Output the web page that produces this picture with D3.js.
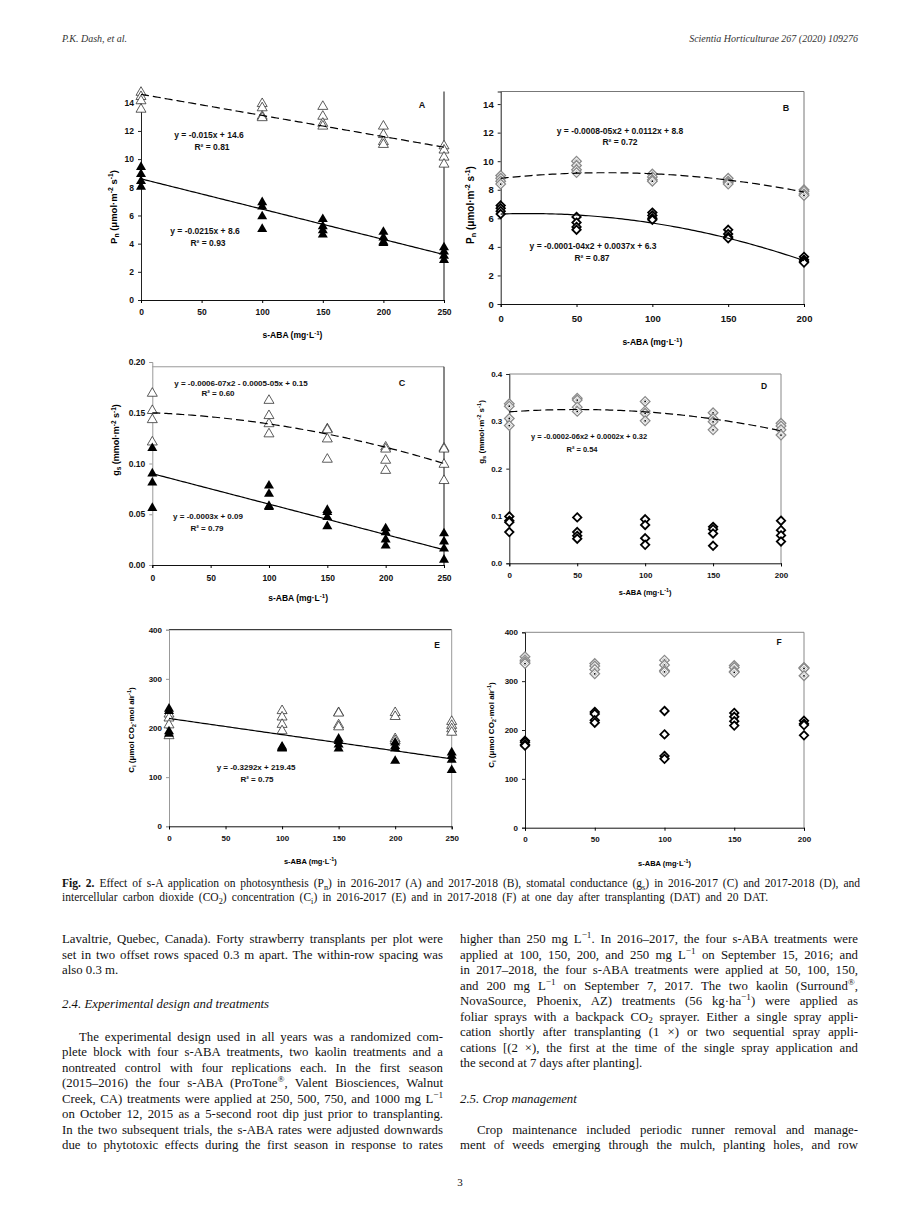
<!DOCTYPE html>
<html><head><meta charset="utf-8">
<script src="https://cdn.jsdelivr.net/npm/d3@7"></script>
<style>body{margin:0;background:#fff}svg{display:block}</style>
</head><body><svg id="page" width="920" height="1226"></svg>
<script>
// ---------------- DATA ----------------
const dosesA = [0, 100, 150, 200, 250];
const dosesB = [0, 50, 100, 150, 200];
const xTicksA = [0, 50, 100, 150, 200, 250];
const xTicksB = [0, 50, 100, 150, 200];
const yTicksPn = [0, 2, 4, 6, 8, 10, 12, 14];
const yTicksGsC = [0, 0.05, 0.10, 0.15, 0.20];
const yTicksGsD = [0, 0.1, 0.2, 0.3, 0.4];
const yTicksCi = [0, 100, 200, 300, 400];

// Panel A: Pn 2016-2017
const pnOpenA = [[14.8,14.5,14.2,13.6],[14.0,13.7,13.1,13.0],[13.8,13.1,12.6,12.4],[12.4,11.8,11.3,11.1],[11.0,10.7,10.2,9.7]];
const pnFilledA = [[9.5,9.0,8.5,8.1],[7.0,6.7,6.0,5.1],[5.8,5.3,5.0,4.7],[4.9,4.5,4.2,4.1],[3.8,3.5,3.2,2.9]];
const fitOpenA = [0, -0.015, 14.6];
const fitFilledA = [0, -0.0215, 8.6];
// Panel B: Pn 2017-2018
const pnOpenB = [[9.0,8.8,8.6,8.4],[10.0,9.7,9.4,9.2],[9.1,8.9,8.7,8.6],[8.8,8.6,8.5,8.4],[8.0,7.9,7.7,7.6]];
const pnFilledB = [[6.9,6.7,6.5,6.3],[6.1,5.7,5.4,5.2],[6.4,6.2,6.0,5.9],[5.2,4.9,4.7,4.6],[3.3,3.1,3.0,2.9]];
const fitOpenB = [-0.00008, 0.0112, 8.8];
const fitFilledB = [-0.0001, 0.0037, 6.3];
// Panel C: gs 2016-2017
const gsOpenC = [[0.170,0.153,0.144,0.122],[0.163,0.148,0.140,0.130],[0.135,0.134,0.125,0.105],[0.117,0.115,0.104,0.094],[0.116,0.115,0.100,0.084]];
const gsFilledC = [[0.116,0.091,0.082,0.057],[0.079,0.071,0.059,0.058],[0.055,0.053,0.048,0.039],[0.037,0.033,0.026,0.020],[0.032,0.024,0.017,0.006]];
const fitOpenC = [-6e-7, -5e-5, 0.15];
const fitFilledC = [0, -0.0003, 0.09];
// Panel D: gs 2017-2018
const gsOpenD = [[0.337,0.332,0.306,0.291],[0.349,0.345,0.330,0.321],[0.342,0.322,0.317,0.301],[0.318,0.306,0.299,0.282],[0.296,0.290,0.282,0.271]];
const gsFilledD = [[0.099,0.090,0.087,0.066],[0.097,0.066,0.058,0.052],[0.093,0.081,0.053,0.039],[0.077,0.072,0.063,0.037],[0.090,0.070,0.059,0.046]];
const fitOpenD = [-2e-6, 0.0002, 0.32];
// Panel E: Ci 2016-2017
const ciOpenE = [[230,222,208,186],[237,224,209,196],[233,232,208,204],[233,225,180,176],[215,207,200,193]];
const ciFilledE = [[241,236,195,190],[164,162,161,160],[180,175,168,160],[172,165,160,135],[152,145,137,116]];
const fitFilledE = [0, -0.3292, 219.45];
// Panel F: Ci 2017-2018
const ciOpenF = [[350,343,339,336],[336,331,324,315],[343,333,322,319],[332,328,320,318],[328,327,326,311]];
const ciFilledF = [[178,175,170,168],[237,233,220,215],[239,191,147,141],[235,227,218,209],[219,213,210,189]];

const eqA = ["y = -0.015x + 14.6", "R² = 0.81", "y = -0.0215x + 8.6", "R² = 0.93"];
const eqB = ["y = -0.0008-05x2 + 0.0112x + 8.8", "R² = 0.72", "y = -0.0001-04x2 + 0.0037x + 6.3", "R² = 0.87"];
const eqC = ["y = -0.0006-07x2 - 0.0005-05x + 0.15", "R² = 0.60", "y = -0.0003x + 0.09", "R² = 0.79"];
const eqD = ["y = -0.0002-06x2 + 0.0002x + 0.32", "R² = 0.54"];
const eqE = ["y = -0.3292x + 219.45", "R² = 0.75"];

const headerLeft = "P.K. Dash, et al.";
const headerRight = "Scientia Horticulturae 267 (2020) 109276";
const captionLines = [
  {s:" Effect of s-A application on photosynthesis (P_{n}) in 2016-2017 (A) and 2017-2018 (B), stomatal conductance (g_{s}) in 2016-2017 (C) and 2017-2018 (D), and", w:798, bold:"Fig. 2."},
  {s:"intercellular carbon dioxide (CO_{2}) concentration (C_{i}) in 2016-2017 (E) and in 2017-2018 (F) at one day after transplanting (DAT) and 20 DAT.", w:706}
];
const leftLines = [
  {s:"Lavaltrie, Quebec, Canada). Forty strawberry transplants per plot were", j:true, row:0},
  {s:"set in two offset rows spaced 0.3 m apart. The within-row spacing was", j:true, row:1},
  {s:"also 0.3 m.", j:false, row:2},
  {s:"2.4.  Experimental design and treatments", j:false, row:4.2, it:true},
  {s:"The experimental design used in all years was a randomized com-", j:true, row:6.3, ind:true},
  {s:"plete block with four s-ABA treatments, two kaolin treatments and a", j:true, row:7.3},
  {s:"nontreated control with four replications each. In the first season", j:true, row:8.3},
  {s:"(2015–2016) the four s-ABA (ProTone^{®}, Valent Biosciences, Walnut", j:true, row:9.3},
  {s:"Creek, CA) treatments were applied at 250, 500, 750, and 1000 mg L^{−1}", j:true, row:10.3},
  {s:"on October 12, 2015 as a 5-second root dip just prior to transplanting.", j:true, row:11.3},
  {s:"In the two subsequent trials, the s-ABA rates were adjusted downwards", j:true, row:12.3},
  {s:"due to phytotoxic effects during the first season in response to rates", j:true, row:13.3}
];
const rightLines = [
  {s:"higher than 250 mg L^{−1}. In 2016–2017, the four s-ABA treatments were", j:true, row:0},
  {s:"applied at 100, 150, 200, and 250 mg L^{−1} on September 15, 2016; and", j:true, row:1},
  {s:"in 2017–2018, the four s-ABA treatments were applied at 50, 100, 150,", j:true, row:2},
  {s:"and 200 mg L^{−1} on September 7, 2017. The two kaolin (Surround^{®},", j:true, row:3},
  {s:"NovaSource, Phoenix, AZ) treatments (56 kg·ha^{−1}) were applied as", j:true, row:4},
  {s:"foliar sprays with a backpack CO_{2} sprayer. Either a single spray appli-", j:true, row:5},
  {s:"cation shortly after transplanting (1 ×) or two sequential spray appli-", j:true, row:6},
  {s:"cations [(2 ×), the first at the time of the single spray application and", j:true, row:7},
  {s:"the second at 7 days after planting].", j:false, row:8},
  {s:"2.5.  Crop management", j:false, row:10.3, it:true},
  {s:"Crop maintenance included periodic runner removal and manage-", j:true, row:12.3, ind:true},
  {s:"ment of weeds emerging through the mulch, planting holes, and row", j:true, row:13.3}
];
const pageNumber = "3";

// ---------------- HELPERS ----------------
const svg = d3.select("#page");
const SANS = "'Liberation Sans', Arial, sans-serif";
const SERIF = "'Liberation Serif', 'Times New Roman', serif";

function parse(str){
  const parts=[]; const re=/(\^\{([^}]*)\}|_\{([^}]*)\})/g; let last=0,m;
  while((m=re.exec(str))){
    if(m.index>last) parts.push({t:str.slice(last,m.index)});
    if(m[2]!==undefined) parts.push({t:m[2],sup:true}); else parts.push({t:m[3],sub:true});
    last=re.lastIndex;
  }
  if(last<str.length) parts.push({t:str.slice(last)});
  return parts;
}
function rich(textSel, parts, fs){
  let shift=0;
  parts.forEach(p=>{
    const target = p.sup ? -fs*0.38 : p.sub ? fs*0.22 : 0;
    const ts = textSel.append("tspan").text(p.t);
    if(target-shift!==0) ts.attr("dy", target-shift);
    if(p.sup||p.sub) ts.attr("font-size", fs*0.72);
    if(p.bold) ts.attr("font-weight","bold");
    shift=target;
  });
  return textSel;
}
function quad(c){ return x => c[0]*x*x + c[1]*x + c[2]; }

const xTitleParts = [{t:"s-ABA (mg·L"},{t:"-1",sup:true},{t:")"}];
const pnTitle = [{t:"P"},{t:"n",sub:true},{t:" (μmol·m"},{t:"-2",sup:true},{t:" s"},{t:"-1",sup:true},{t:")"}];
const gsTitle = [{t:"g"},{t:"s",sub:true},{t:" (mmol·m"},{t:"-2",sup:true},{t:" s"},{t:"-1",sup:true},{t:")"}];
const ciTitle = [{t:"C"},{t:"i",sub:true},{t:" (μmol CO"},{t:"2",sub:true},{t:"·mol air"},{t:"-1",sup:true},{t:")"}];

const triPath = "M0,-4.8L5,3.8L-5,3.8Z";
const diaPath = r => `M0,${-r}L${r},0L0,${r}L${-r},0Z`;

function drawPanel(c){
  const g = svg.append("g");
  const x = d3.scaleLinear().domain([0,c.xMax]).range([c.x0,c.x1]);
  const y = d3.scaleLinear().domain([0,c.yMax]).range([c.yB,c.yT]);
  if(c.topVal!==undefined) g.append("line").attr("x1",x(0)).attr("x2",x(c.xMax)).attr("y1",y(c.topVal)).attr("y2",y(c.topVal)).attr("stroke",c.topCol).attr("stroke-width",1);
  g.append("line").attr("x1",x(c.xMax)).attr("x2",x(c.xMax)).attr("y1",c.topVal!==undefined?y(c.topVal):y(c.yMax)).attr("y2",y(0)).attr("stroke",c.rightCol).attr("stroke-width",1);
  const fs=c.fs;
  const ya = g.append("g").attr("transform",`translate(${c.x0},0)`)
    .call(d3.axisLeft(y).tickValues(c.yTicks).tickSize(3).tickPadding(4).tickFormat(c.yFmt));
  const xa = g.append("g").attr("transform",`translate(0,${c.yB})`)
    .call(d3.axisBottom(x).tickValues(c.xTicks).tickSize(3).tickPadding(c.xPad).tickFormat(d3.format("d")));
  [ya,xa].forEach(a=>{a.selectAll("text").attr("font-family",SANS).attr("font-weight","bold").attr("font-size",fs).attr("fill","#111");});
  ya.select(".domain").attr("stroke",c.leftCol||"#222");
  ya.selectAll(".tick line").attr("stroke",c.leftCol||"#222");
  xa.select(".domain").attr("stroke","#111");
  rich(g.append("text").attr("x",(c.x0+c.x1)/2).attr("y",c.xTitleY).attr("text-anchor","middle")
    .attr("font-family",SANS).attr("font-weight","bold").attr("font-size",c.tfs), xTitleParts, c.tfs);
  rich(g.append("text").attr("transform",`translate(${c.yTitleX},${c.yTitleY}) rotate(-90)`).attr("text-anchor","middle")
    .attr("font-family",SANS).attr("font-weight","bold").attr("font-size",c.ytfs), c.yTitle, c.ytfs);
  c.series.forEach(s=>{
    s.vals.forEach((arr,i)=>{
      arr.forEach(v=>{
        const px=x(c.doses[i]), py=y(v);
        const mg=g.append("g").attr("transform",`translate(${px},${py})`);
        if(s.kind==="triOpen") mg.append("path").attr("d",triPath).attr("fill","#fff").attr("stroke","#333").attr("stroke-width",0.8);
        else if(s.kind==="triFill") mg.append("path").attr("d",triPath).attr("fill","#000");
        else if(s.kind==="diaGray"){ mg.append("path").attr("d",diaPath(4.8)).attr("fill","#fff").attr("stroke","#8a8a8a").attr("stroke-width",1.3);
          mg.append("path").attr("d",diaPath(2.4)).attr("fill","none").attr("stroke","#aaa").attr("stroke-width",0.7);
          mg.append("circle").attr("r",0.9).attr("fill","#000"); }
        else if(s.kind==="diaBlack") mg.append("path").attr("d",diaPath(4.2)).attr("fill","#fff").attr("stroke","#000").attr("stroke-width",1.8);
      });
    });
  });
  c.fits.forEach(f=>{
    const fn=quad(f.coef);
    const pts=d3.range(0,c.xMax+0.001,2).map(v=>[x(v),y(fn(v))]);
    g.append("path").attr("d",d3.line()(pts)).attr("fill","none").attr("stroke","#000").attr("stroke-width",1.2)
      .attr("stroke-dasharray",f.dash?"8,4":null);
  });
  c.labels.forEach(l=>{
    g.append("text").attr("x",l[1]).attr("y",l[2]).attr("text-anchor","middle").attr("font-family",SANS)
      .attr("font-weight","bold").attr("font-size",l[3]||c.efs).attr("fill","#111").text(l[0]);
  });
}

// ---------------- PANELS ----------------
drawPanel({x0:141,x1:444,yB:300,yT:91.5,xMax:250,yMax:14.8,doses:dosesA,xTicks:xTicksA,yTicks:yTicksPn,yFmt:d3.format("d"),
  fs:8.5,tfs:8.5,ytfs:9.5,efs:8.5,xPad:6,xTitleY:338,yTitleX:117,yTitleY:207,yTitle:pnTitle,topVal:undefined,rightCol:"#111",
  series:[{kind:"triOpen",vals:pnOpenA},{kind:"triFill",vals:pnFilledA}],
  fits:[{coef:fitOpenA,dash:true},{coef:fitFilledA,dash:false}],
  labels:[[eqA[0],209,138],[eqA[1],212,150],[eqA[2],205,234],[eqA[3],208,246],["A",422,108,9]]});

drawPanel({x0:500.7,x1:804,yB:304,yT:91.5,xMax:200,yMax:14.88,doses:dosesB,xTicks:xTicksB,yTicks:yTicksPn,yFmt:d3.format("d"),
  fs:9.5,tfs:8.5,ytfs:10,efs:8.5,xPad:8,xTitleY:345,yTitleX:474,yTitleY:205,yTitle:pnTitle,topVal:14.88,topCol:"#777",rightCol:"#777",
  series:[{kind:"diaGray",vals:pnOpenB},{kind:"diaBlack",vals:pnFilledB}],
  fits:[{coef:fitOpenB,dash:true},{coef:fitFilledB,dash:false}],
  labels:[[eqB[0],620,134],[eqB[1],620,145],[eqB[2],593,249],[eqB[3],592,261],["B",786,111,9]]});

drawPanel({x0:152.3,x1:444,yB:565,yT:362,xMax:250,yMax:0.20,doses:dosesA,xTicks:xTicksA,yTicks:yTicksGsC,yFmt:d3.format(".2f"),
  fs:8.5,tfs:8.5,ytfs:9,efs:8,xPad:7,xTitleY:601,yTitleX:119,yTitleY:440,yTitle:gsTitle,topVal:0.1953,topCol:"#999",rightCol:"#111",leftCol:"#999",
  series:[{kind:"triOpen",vals:gsOpenC},{kind:"triFill",vals:gsFilledC}],
  fits:[{coef:fitOpenC,dash:true},{coef:fitFilledC,dash:false}],
  labels:[[eqC[0],241,386],[eqC[1],218,396],[eqC[2],208,519],[eqC[3],207,531],["C",402,386,9]]});

drawPanel({x0:509.3,x1:781,yB:563.3,yT:374,xMax:200,yMax:0.4,doses:dosesB,xTicks:xTicksB,yTicks:yTicksGsD,yFmt:d3.format(".1f"),
  fs:8,tfs:7.5,ytfs:8,efs:7.5,xPad:6,xTitleY:595,yTitleX:484,yTitleY:432,yTitle:gsTitle,topVal:0.4,topCol:"#888",rightCol:"#888",
  series:[{kind:"diaGray",vals:gsOpenD},{kind:"diaBlack",vals:gsFilledD}],
  fits:[{coef:fitOpenD,dash:true}],
  labels:[[eqD[0],589,439],[eqD[1],582,451.5],["D",764,389,8.5]]});

drawPanel({x0:169,x1:451.7,yB:826.3,yT:629.7,xMax:250,yMax:400,doses:dosesA,xTicks:xTicksA,yTicks:yTicksCi,yFmt:d3.format("d"),
  fs:8,tfs:7.5,ytfs:8,efs:8,xPad:6,xTitleY:864,yTitleX:134,yTitleY:730,yTitle:ciTitle,topVal:400,topCol:"#111",rightCol:"#999",leftCol:"#999",
  series:[{kind:"triOpen",vals:ciOpenE},{kind:"triFill",vals:ciFilledE}],
  fits:[{coef:fitFilledE,dash:false}],
  labels:[[eqE[0],256,770],[eqE[1],257,782],["E",437,648,8.5]]});

drawPanel({x0:525,x1:804,yB:827.7,yT:632.3,xMax:200,yMax:400,doses:dosesB,xTicks:xTicksB,yTicks:yTicksCi,yFmt:d3.format("d"),
  fs:8,tfs:7.5,ytfs:8,efs:8,xPad:6,xTitleY:866,yTitleX:494,yTitleY:725,yTitle:ciTitle,topVal:400,topCol:"#888",rightCol:"#888",
  series:[{kind:"diaGray",vals:ciOpenF},{kind:"diaBlack",vals:ciFilledF}],
  fits:[],
  labels:[["F",779,645,8.5]]});

// ---------------- TEXT ----------------
svg.append("text").attr("x",62).attr("y",42).attr("font-family",SERIF).attr("font-style","italic").attr("font-size",10).attr("fill","#333").text(headerLeft);
svg.append("text").attr("x",858).attr("y",42).attr("text-anchor","end").attr("font-family",SERIF).attr("font-style","italic").attr("font-size",10).attr("fill","#333").text(headerRight);

function fit(t, target, justifyIt){
  const w=t.node().getComputedTextLength();
  const n=(t.text().match(/ /g)||[]).length;
  if(w>target){ t.attr("textLength",target).attr("lengthAdjust","spacingAndGlyphs"); }
  else if(justifyIt && n>0){ t.attr("word-spacing",(target-w)/n); }
}
captionLines.forEach((l,i)=>{
  const fs=11.5;
  const t=svg.append("text").attr("x",62).attr("y",887+i*14).attr("font-family",SERIF).attr("font-size",fs).attr("fill","#111");
  const parts=parse(l.s); if(l.bold) parts.unshift({t:l.bold,bold:true});
  rich(t,parts,fs);
  fit(t,l.w,true);
});
function column(lines,x0,width){
  lines.forEach(l=>{
    const fs=12.8;
    const xi = x0 + (l.ind?17:0);
    const t=svg.append("text").attr("x",xi).attr("y",943+l.row*15.5).attr("font-family",SERIF).attr("font-size",fs).attr("fill","#111");
    if(l.it) t.attr("font-style","italic");
    rich(t,parse(l.s),fs);
    if(l.j) fit(t,width-(l.ind?17:0),true);
  });
}
column(leftLines,62,381);
column(rightLines,460,398);
svg.append("text").attr("x",460).attr("y",1186).attr("text-anchor","middle").attr("font-family",SERIF).attr("font-size",11).attr("fill","#111").text(pageNumber);
</script></body></html>
